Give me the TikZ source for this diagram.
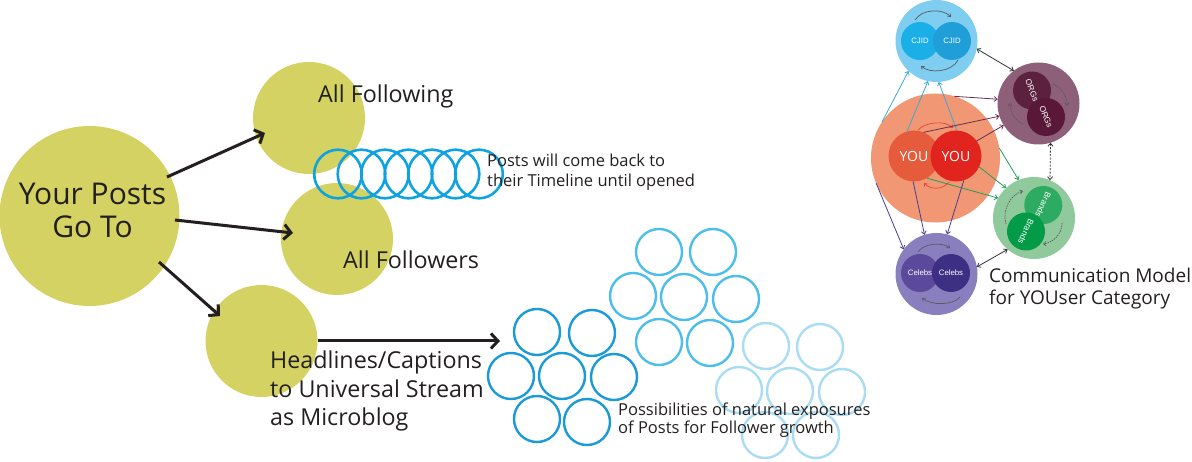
\documentclass[tikz,border=0pt]{standalone}
\usepackage{fontspec}
\setmainfont{Open Sans}
\newfontfamily\labelfont{Liberation Sans}
\usetikzlibrary{arrows.meta}
\definecolor{olive}{HTML}{D4D262}
\definecolor{ink}{HTML}{231F20}
\definecolor{spring}{HTML}{0FA2E0}
\definecolor{clusterA}{HTML}{1A9AD7}
\definecolor{clusterB}{HTML}{4DBDEC}
\definecolor{clusterC}{HTML}{A9DCF5}
\definecolor{salmon}{HTML}{F19774}
\definecolor{youLc}{HTML}{E55B3C}
\definecolor{youRc}{HTML}{E1251E}
\definecolor{cjidO}{HTML}{80CDF2}
\definecolor{cjidLc}{HTML}{1AAFE6}
\definecolor{cjidRc}{HTML}{1F9ED8}
\definecolor{orgsO}{HTML}{8D5F78}
\definecolor{orgsAc}{HTML}{5C213F}
\definecolor{orgsBc}{HTML}{5A1838}
\definecolor{brandsO}{HTML}{90C99B}
\definecolor{brandsAc}{HTML}{2EAB62}
\definecolor{brandsBc}{HTML}{049B48}
\definecolor{celebsO}{HTML}{8A7FBE}
\definecolor{celebsAc}{HTML}{5B4A9B}
\definecolor{celebsBc}{HTML}{3C2F84}
\definecolor{lnBlue}{HTML}{3AA8DA}
\definecolor{lnMaroon}{HTML}{6B2C55}
\definecolor{lnGreen}{HTML}{1E9F5A}
\definecolor{lnIndigo}{HTML}{4B3C98}
\definecolor{lnDark}{HTML}{333333}
\definecolor{lnRed}{HTML}{E8433A}
\definecolor{lnGray}{HTML}{5A5A5A}
\begin{document}
\begin{tikzpicture}[x=1pt,y=-1pt,
  blob/.style={circle, fill=olive, draw=none, inner sep=0pt, outer sep=0pt, minimum size=#1},
  disc/.style={circle, draw=none, inner sep=0pt, outer sep=0pt, minimum size=#1},
  bigtext/.style={font=\fontsize{23.3}{28}\selectfont, text=ink, inner sep=0pt, anchor=base west},
  hugetext/.style={font=\fontsize{30}{33}\selectfont, text=ink, inner sep=0pt, anchor=base},
  smalltext/.style={font=\fontsize{16.5}{19}\selectfont, text=ink, inner sep=0pt, anchor=base west},
  modeltext/.style={font=\fontsize{19}{22}\selectfont, text=ink, inner sep=0pt, anchor=base west},
  tinylabel/.style={text=white, font=\labelfont\fontsize{7.8}{8}\selectfont},
  tiltlabel/.style={text=white, font=\labelfont\fontsize{8.3}{9}\selectfont},
  bigarrow/.style={draw=ink, line width=3pt, -{Straight Barb[length=7pt,width=15pt]}},
  springloop/.style={draw=spring, line width=2.6pt},
  ring/.style={line width=2.4pt},
  thin/.style={line width=0.8pt, -{Straight Barb[length=3pt,width=5pt]}},
  twoway/.style={line width=0.8pt, draw=lnDark, {Straight Barb[length=3pt,width=5pt]}-{Straight Barb[length=3pt,width=5pt]}},
  innerarc/.style={line width=0.7pt, draw=lnGray, -{Straight Barb[length=2.5pt,width=4pt]}},
]
\useasboundingbox (0,0) rectangle (1192,462);

% ---------- left part ----------
\node[blob=180] (posts) at (89.5,216) {};
\node[blob=112] (following) at (309,118) {};
\node[blob=112] (followers) at (337,239) {};
\node[blob=112] (stream) at (261.5,341) {};

\foreach \i in {0,...,6}
  \draw[springloop] ({338+23.5*\i},174) ellipse [x radius=23.8, y radius=24.3];

\node[hugetext] (postsA) at (92.5,205) {Your Posts};
\node[hugetext] (postsB) at (92.5,238) {Go To};
\node[bigtext] (followingT) at (318,103) {All Following};
\node[bigtext] (followersT) at (343,269) {All Followers};
\node[bigtext] (streamA) at (270,369) {Headlines/Captions};
\node[bigtext] (streamB) at (270,397) {to Universal Stream};
\node[bigtext] (streamC) at (270,425) {as Microblog};
\node[smalltext] (backA) at (487,167) {Posts will come back to};
\node[smalltext] (backB) at (487,187) {their Timeline until opened};

\draw[bigarrow] ([shift={(77.5,-39)}]posts.center) -- ([shift={(-44,15)}]following.center);
\draw[bigarrow] ([shift={(85.5,4)}]posts.center) -- ([shift={(-44,-6)}]followers.center);
\draw[bigarrow] ([shift={(69.5,46)}]posts.center) -- ([shift={(-41.5,-25)}]stream.center);
\coordinate (exposure) at (500,341);
\draw[bigarrow] (stream.east) -- (exposure);

% ---------- exposure clusters ----------
\foreach \p in {(537,332),(592,333),(511,376),(562,376),(614,377),(537,419),(587,422)}
  \draw[ring, draw=clusterA] \p circle [radius=23];
\foreach \p in {(659,252),(713,252),(633,296),(684,297),(736,299),(659,342),(710,343)}
  \draw[ring, draw=clusterB] \p circle [radius=23];
\foreach \p in {(766,346),(820,347),(739,390),(790,391),(842,392),(765,435),(816,435)}
  \draw[ring, draw=clusterC] \p circle [radius=23];

\node[smalltext] (possA) at (618,415) {Possibilities of natural exposures};
\node[smalltext] (possB) at (618,433.5) {of Posts for Follower growth};

% ---------- communication model ----------
\node[disc=82, fill=cjidO] (cjid) at (936.5,41) {};
\node[disc=38, fill=cjidLc, tinylabel] (cjidL) at (920,41) {CJID};
\node[disc=38, fill=cjidRc, tinylabel] (cjidR) at (952,41) {CJID};

\node[disc=82, fill=orgsO] (orgs) at (1038.5,103.5) {};
\node[disc=38, fill=orgsAc, tiltlabel, rotate=-68] (orgsA) at (1032,90.5) {ORGs};
\node[disc=38, fill=orgsBc, tiltlabel, rotate=-68] (orgsB) at (1046,117) {ORGs};

\node[disc=82, fill=brandsO] (brands) at (1034,218) {};
\node[disc=38, fill=brandsAc, tiltlabel, rotate=-115] (brandsA) at (1043.3,205) {Brands};
\node[disc=38, fill=brandsBc, tiltlabel, rotate=-115] (brandsB) at (1026,231.5) {Brands};

\node[disc=82, fill=celebsO] (celebs) at (936.5,274) {};
\node[disc=38, fill=celebsAc, tinylabel] (celebsA) at (920,273) {Celebs};
\node[disc=38, fill=celebsBc, tinylabel] (celebsB) at (951,273) {Celebs};

\node[disc=129, fill=salmon] (you) at (935.5,158) {};
\node[disc=51, fill=youLc, text=white, font=\fontsize{14}{16}\selectfont] (youL) at (914,156) {YOU};
\node[disc=51, fill=youRc, text=white, font=\fontsize{14}{16}\selectfont] (youR) at (956,156) {YOU};

% inner circulation arcs
\draw[innerarc] (915,20) .. controls (922,9) and (942,8) .. (951,17);
\draw[innerarc] (958,60) .. controls (952,72) and (930,74) .. (921,66);
\draw[innerarc] (918,252) .. controls (924,243) and (942,242) .. (950,248);
\draw[innerarc] (960,297) .. controls (954,305) and (932,306) .. (922,298);
\draw[innerarc, dash pattern=on 1.5pt off 1pt] (1053,84) .. controls (1062,88) and (1067,96) .. (1067,106);
\draw[innerarc, dash pattern=on 1.5pt off 1pt] (1023,124) .. controls (1014,120) and (1010,112) .. (1010,103);
\draw[innerarc, dash pattern=on 1.5pt off 1pt] (1006,224) .. controls (1002,210) and (1010,195) .. (1023,191);
\draw[innerarc, dash pattern=on 1.5pt off 1pt] (1062,223) .. controls (1062,235) and (1052,243) .. (1043,244);
\draw[innerarc, draw=lnRed] (918,130) .. controls (925,122) and (945,120) .. (953,128);
\draw[innerarc, draw=lnRed] (949,182) .. controls (943,190) and (930,190) .. (924,183);

% YOU -> CJID
\draw[thin, draw=lnBlue] (you.146) -- (cjid.227);
\draw[thin, draw=lnBlue] (youL.106) -- (cjid.258);
\draw[thin, draw=lnBlue] (youR.88) -- (cjid.273);
% YOU -> ORGs
\draw[thin, draw=lnMaroon] (you.73) -- (orgs.174);
\draw[thin, draw=lnMaroon] (youL.68) -- (orgs.198);
\draw[thin, draw=lnMaroon] (youR.36) -- (orgs.212);
% YOU -> Brands
\draw[thin, draw=lnGreen] (you.9) -- (brands.112);
\draw[thin, draw=lnGreen] (youR.-25) -- (brands.133);
\draw[thin, draw=lnGreen] (youL.-60) -- (brands.151);
% YOU -> Celebs
\draw[thin, draw=lnIndigo] (you.203) -- (celebs.143);
\draw[thin, draw=lnIndigo] (youL.268) -- (celebs.107);
\draw[thin, draw=lnIndigo] (youR.-72) -- (celebs.75);
% between categories
\draw[twoway] (cjid.-11) -- (orgs.127);
\draw[twoway, dash pattern=on 2pt off 1.5pt] (orgs.-73) -- (brands.67);
\draw[twoway] (brands.230) -- (celebs.10);

\node[modeltext] (modelA) at (989,283) {Communication Model};
\node[modeltext] (modelB) at (989,305) {for YOUser Category};
\end{tikzpicture}
\end{document}
